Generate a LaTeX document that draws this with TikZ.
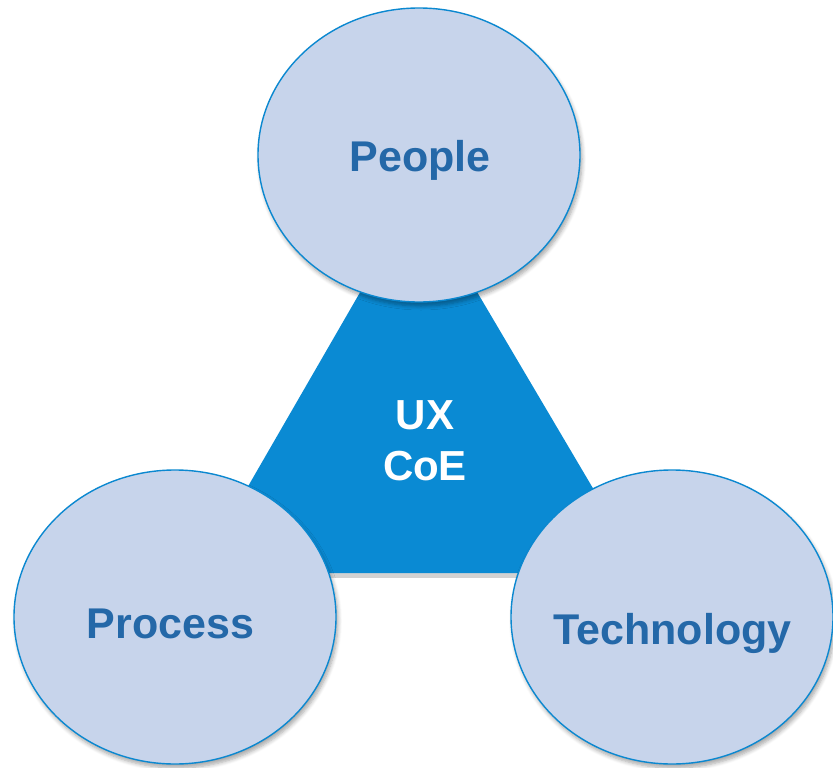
\documentclass[tikz,border=0pt]{standalone}
\usepackage{fontspec}
\setmainfont{Liberation Sans}
\usetikzlibrary{shapes.geometric,shadows.blur}

\definecolor{pillar}{HTML}{C7D4EB}
\definecolor{pillarline}{HTML}{0B88D0}
\definecolor{pillartext}{HTML}{2468A8}
\definecolor{core}{HTML}{0A8AD3}

\tikzset{
  pillarnode/.style={ellipse, draw=pillarline, line width=1.4pt, fill=pillar,
    minimum width=322pt, minimum height=294pt, inner sep=0pt,
    blur shadow={shadow xshift=2pt, shadow yshift=-4pt, shadow blur steps=6,
      shadow opacity=35, shadow blur radius=4pt}},
  pillarlabel/.style={inner sep=0pt, text height=31pt, text depth=0pt,
    font=\fontsize{43}{50}\selectfont\bfseries, text=pillartext},
  corelabel/.style={align=center, text=white, inner sep=0pt,
    font=\fontsize{42}{51}\selectfont\bfseries}
}

\begin{document}
\begin{tikzpicture}[x=1pt,y=-1pt]
  \useasboundingbox (0,0) rectangle (833,768);

  % central triangle with a soft shadow under its base
  \coordinate (apex) at (418,192);
  \coordinate (bl) at (198,573);
  \coordinate (br) at (643,573);
  \fill[gray!70, opacity=0.5] (bl) rectangle ([yshift=-5pt]br);
  \fill[core] (apex) -- (bl) -- (br) -- cycle;
  \node[corelabel] (ux) at (425,441) {UX\\CoE};

  % the three pillars
  \node[pillarnode, label={[pillarlabel, xshift=1pt, yshift=-1pt]center:People}]
    (people) at (419,155) {};
  \node[pillarnode, label={[pillarlabel, xshift=-4.5pt, yshift=-5.5pt]center:Process}]
    (process) at (175,617) {};
  \node[pillarnode, label={[pillarlabel, xshift=0.5pt, yshift=-11.5pt]center:Technology}]
    (tech) at (672,617) {};
\end{tikzpicture}
\end{document}
